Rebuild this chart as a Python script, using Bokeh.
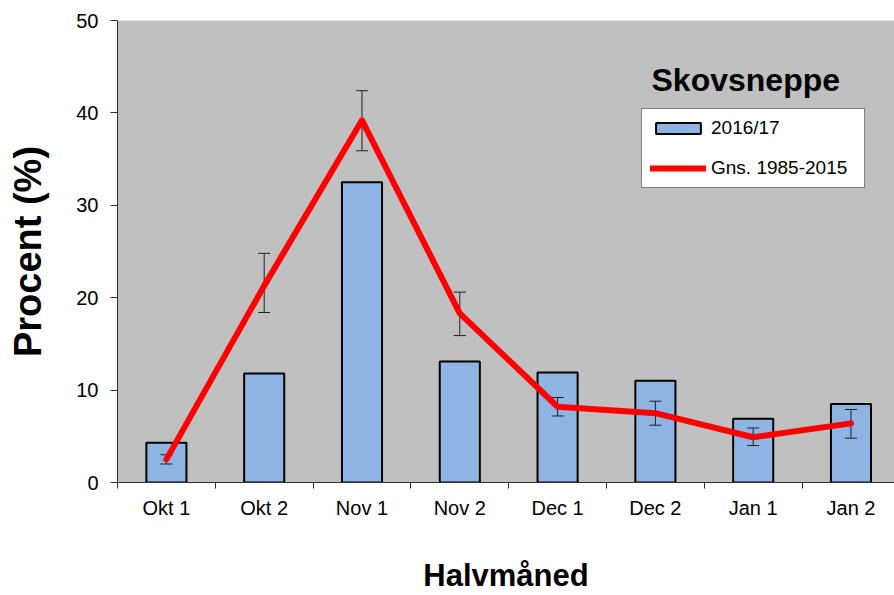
from bokeh.plotting import figure
from bokeh.models import (ColumnDataSource, Range1d, FixedTicker, Legend, LegendItem, Label)
from bokeh.embed import file_html
from bokeh.resources import INLINE

categories = ["Okt 1", "Okt 2", "Nov 1", "Nov 2", "Dec 1", "Dec 2", "Jan 1", "Jan 2"]
season_2016_17 = [4.3, 11.8, 32.5, 13.1, 11.9, 11.0, 6.9, 8.5]
mean_1985_2015 = [2.5, 21.3, 39.2, 18.3, 8.2, 7.5, 4.9, 6.4]
err_low = [2.0, 18.4, 35.9, 15.9, 7.2, 6.2, 4.0, 4.8]
err_high = [3.0, 24.8, 42.4, 20.6, 9.2, 8.8, 5.9, 7.9]
y_ticks = [0, 10, 20, 30, 40, 50]

FONT = "Liberation Sans"
xpos = [i + 0.5 for i in range(len(categories))]
src = ColumnDataSource(dict(x=xpos, cat=categories, bar=season_2016_17,
                            mean=mean_1985_2015, lo=err_low, hi=err_high))

p = figure(width=894, height=595, output_backend="svg", toolbar_location=None,
           x_range=Range1d(0, 7.945), y_range=Range1d(0, 50),
           min_border_left=117, min_border_right=0, min_border_top=20, min_border_bottom=111)
p.background_fill_color = "#C0C0C0"
p.border_fill_color = "white"
p.outline_line_color = None
p.grid.visible = False

bars = p.vbar(x="x", top="bar", width=0.41, source=src, fill_color="#8EB4E3",
              line_color="black", line_width=2)
# error bars
p.segment(x0="x", y0="lo", x1="x", y1="hi", source=src, line_color="#202020", line_width=1)
p.scatter(x="x", y="lo", source=src, marker="dash", size=12, line_color="#202020", line_width=1)
p.scatter(x="x", y="hi", source=src, marker="dash", size=12, line_color="#202020", line_width=1)
line = p.line(x="x", y="mean", source=src, line_color="#FF0000", line_width=6,
              line_join="round", line_cap="round")

# x axis: labels at centers, ticks between categories
xa = p.xaxis[0]
xa.ticker = FixedTicker(ticks=xpos, minor_ticks=list(range(len(categories) + 1)))
xa.major_label_overrides = {x: c for x, c in zip(xpos, categories)}
xa.major_tick_out = 0
xa.major_tick_in = 0
xa.minor_tick_out = 6
xa.minor_tick_in = 0
xa.minor_tick_line_color = "#303030"
xa.axis_line_color = "#303030"
xa.major_label_text_font = FONT
xa.major_label_text_font_size = "20px"
xa.major_label_text_color = "black"
xa.major_label_standoff = 8
xa.axis_label = "Halvmåned"
xa.axis_label_text_font = FONT
xa.axis_label_text_font_size = "31px"
xa.axis_label_text_font_style = "bold"
xa.axis_label_text_color = "black"
xa.axis_label_standoff = 36

ya = p.yaxis[0]
ya.ticker = FixedTicker(ticks=y_ticks, minor_ticks=[])
ya.major_tick_out = 7
ya.major_tick_in = 0
ya.major_tick_line_color = "#303030"
ya.axis_line_color = "#303030"
ya.major_label_text_font = FONT
ya.major_label_text_font_size = "20px"
ya.major_label_text_color = "black"
ya.major_label_standoff = 12
ya.axis_label = "Procent (%)"
ya.axis_label_text_font = FONT
ya.axis_label_text_font_size = "38px"
ya.axis_label_text_font_style = "bold"
ya.axis_label_text_color = "black"
ya.axis_label_standoff = 24

legend = Legend(items=[LegendItem(label="2016/17", renderers=[bars]),
                       LegendItem(label="Gns. 1985-2015", renderers=[line])],
                location=(524, 294), orientation="vertical",
                background_fill_color="white", background_fill_alpha=1,
                border_line_color="black", border_line_width=1,
                label_text_font=FONT, label_text_font_size="19px", label_text_color="black",
                glyph_width=56, glyph_height=14, label_height=20, label_width=145,
                label_standoff=5, spacing=18, padding=8, margin=0)
p.add_layout(legend)

title = Label(x=534, y=43.6, x_units="screen", y_units="data", text="Skovsneppe",
              text_font=FONT, text_font_size="32px", text_font_style="bold",
              text_color="black", text_baseline="alphabetic")
p.add_layout(title)

open("out.html", "w").write(file_html(p, INLINE))
